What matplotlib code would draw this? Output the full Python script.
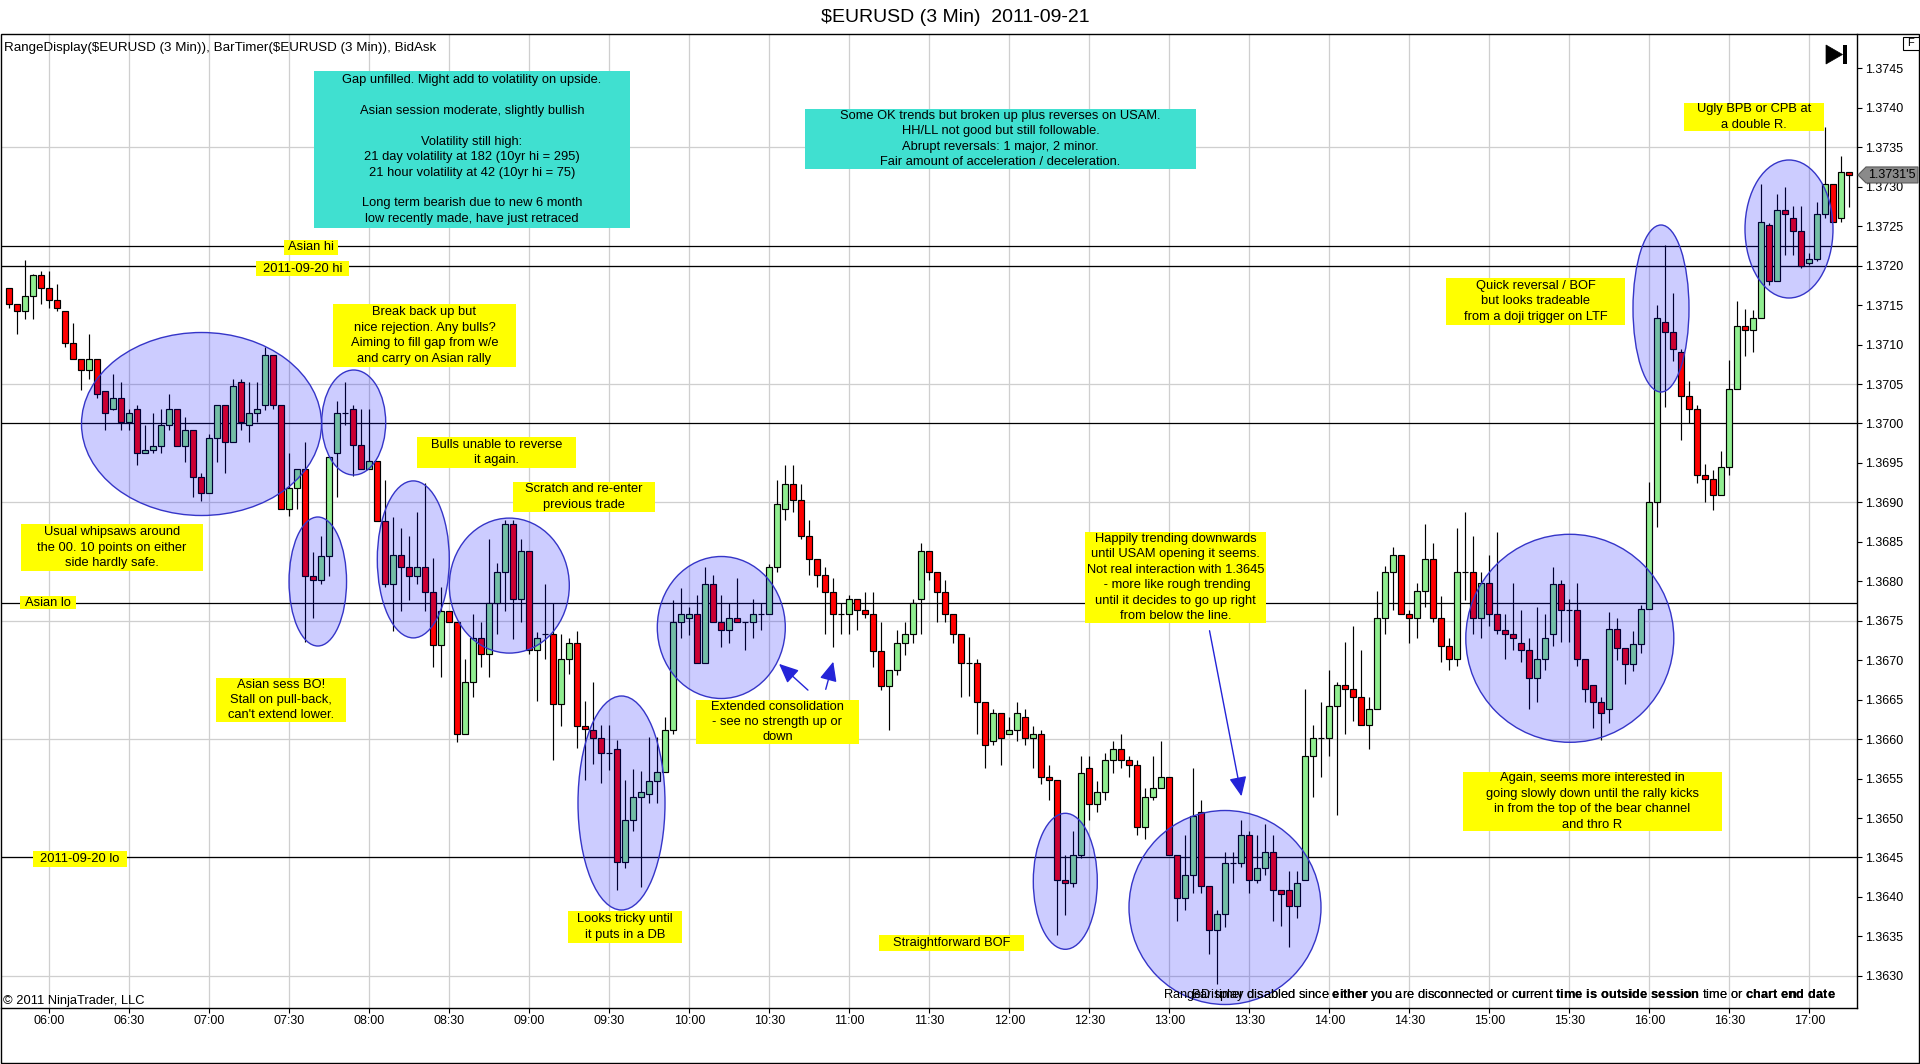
import numpy as np
import matplotlib
matplotlib.use("Agg")
import matplotlib.pyplot as plt
from matplotlib.patches import Rectangle, Ellipse, Polygon, FancyArrowPatch

plt.rcParams['font.family'] = ['Liberation Sans', 'DejaVu Sans']
plt.rcParams['mathtext.fontset'] = 'custom'
plt.rcParams['mathtext.rm'] = 'Liberation Sans'
plt.rcParams['mathtext.bf'] = 'Liberation Sans:bold'

# ---------------------------------------------------------------- data
TITLE = "$EURUSD (3 Min)  2011-09-21"
HEADER = "RangeDisplay($EURUSD (3 Min)), BarTimer($EURUSD (3 Min)), BidAsk"
SESSION_START = "05:45"
BAR_MINUTES = 3

opens = [
    1.37172, 1.37152, 1.37142, 1.37162, 1.37188, 1.37172, 1.37157, 1.37142, 1.37102, 1.37082,
    1.37068, 1.37082, 1.37041, 1.37018, 1.37032, 1.37002, 1.37018, 1.36962, 1.36967, 1.36972,
    1.36998, 1.37018, 1.36972, 1.36992, 1.36932, 1.36912, 1.36982, 1.37023, 1.36977, 1.37052,
    1.36998, 1.37013, 1.37023, 1.37087, 1.37023, 1.36892, 1.36918, 1.36942, 1.36807, 1.36802,
    1.36832, 1.36963, 1.37013, 1.37018, 1.36973, 1.36942, 1.36952, 1.36877, 1.36797, 1.36833,
    1.36818, 1.36807, 1.36818, 1.36787, 1.36719, 1.36762, 1.36748, 1.36607, 1.36673, 1.36728,
    1.36708, 1.36772, 1.36812, 1.36872, 1.36777, 1.36838, 1.36713, 1.36733, 1.36733, 1.36644,
    1.36702, 1.36722, 1.36617, 1.36612, 1.36602, 1.36583, 1.36588, 1.36444, 1.36498, 1.36527,
    1.36531, 1.36547, 1.36558, 1.36612, 1.36748, 1.36753, 1.36759, 1.36697, 1.36797, 1.36748,
    1.36738, 1.36753, 1.36748, 1.36748, 1.36759, 1.36759, 1.36818, 1.36892, 1.36923, 1.36903,
    1.36857, 1.36828, 1.36808, 1.36787, 1.36759, 1.36759, 1.36777, 1.36764, 1.36759, 1.36712,
    1.36667, 1.36687, 1.36722, 1.36733, 1.36777, 1.36838, 1.36812, 1.36787, 1.36759, 1.36733,
    1.36697, 1.36697, 1.36647, 1.36598, 1.36633, 1.36607, 1.36612, 1.36628, 1.36602, 1.36607,
    1.36552, 1.36548, 1.36422, 1.36418, 1.36453, 1.36563, 1.36518, 1.36533, 1.36573, 1.36588,
    1.36573, 1.36567, 1.36488, 1.36527, 1.36538, 1.36552, 1.36453, 1.36398, 1.36428, 1.36508,
    1.36414, 1.36358, 1.36378, 1.36443, 1.36443, 1.36478, 1.36422, 1.36437, 1.36457, 1.36409,
    1.36409, 1.36388, 1.36422, 1.36578, 1.36602, 1.36602, 1.36642, 1.36668, 1.36663, 1.36653,
    1.36618, 1.36638, 1.36753, 1.36812, 1.36833, 1.36758, 1.36753, 1.36788, 1.36828, 1.36753,
    1.36718, 1.36702, 1.36812, 1.36812, 1.36753, 1.36798, 1.36758, 1.36738, 1.36733, 1.36722,
    1.36713, 1.36678, 1.36702, 1.36733, 1.36797, 1.36764, 1.36764, 1.36702, 1.36668, 1.36647,
    1.36638, 1.36740, 1.36715, 1.36695, 1.36720, 1.36765, 1.36900, 1.37129, 1.37116, 1.37090,
    1.37035, 1.37019, 1.36935, 1.36930, 1.36910, 1.36945, 1.37044, 1.37124, 1.37119, 1.37134,
    1.37251, 1.37180, 1.37271, 1.37261, 1.37244, 1.37204, 1.37209, 1.37265, 1.37304, 1.37260,
    1.37319,
]
highs = [
    1.37172, 1.37152, 1.37207, 1.37190, 1.37193, 1.37193, 1.37177, 1.37142, 1.37127, 1.37082,
    1.37113, 1.37082, 1.37041, 1.37063, 1.37052, 1.37018, 1.37023, 1.36998, 1.37013, 1.37018,
    1.37037, 1.37018, 1.37008, 1.36992, 1.36937, 1.36987, 1.37023, 1.37023, 1.37057, 1.37057,
    1.37052, 1.37052, 1.37097, 1.37087, 1.37023, 1.36962, 1.36942, 1.36977, 1.36837, 1.36857,
    1.36957, 1.37029, 1.37053, 1.37024, 1.37018, 1.37018, 1.36952, 1.36928, 1.36882, 1.36867,
    1.36857, 1.36888, 1.36924, 1.36829, 1.36793, 1.36762, 1.36748, 1.36702, 1.36758, 1.36748,
    1.36854, 1.36823, 1.36878, 1.36878, 1.36854, 1.36838, 1.36736, 1.36797, 1.36772, 1.36733,
    1.36728, 1.36737, 1.36648, 1.36673, 1.36618, 1.36618, 1.36599, 1.36548, 1.36562, 1.36559,
    1.36603, 1.36603, 1.36628, 1.36776, 1.36792, 1.36768, 1.36783, 1.36818, 1.36808, 1.36783,
    1.36772, 1.36804, 1.36748, 1.36777, 1.36772, 1.36822, 1.36928, 1.36947, 1.36947, 1.36923,
    1.36878, 1.36828, 1.36818, 1.36804, 1.36772, 1.36783, 1.36777, 1.36787, 1.36787, 1.36748,
    1.36687, 1.36738, 1.36748, 1.36777, 1.36848, 1.36838, 1.36812, 1.36802, 1.36759, 1.36733,
    1.36730, 1.36702, 1.36647, 1.36638, 1.36633, 1.36628, 1.36647, 1.36638, 1.36617, 1.36612,
    1.36567, 1.36548, 1.36453, 1.36483, 1.36578, 1.36578, 1.36547, 1.36583, 1.36597, 1.36607,
    1.36578, 1.36573, 1.36538, 1.36578, 1.36598, 1.36552, 1.36453, 1.36478, 1.36563, 1.36523,
    1.36414, 1.36383, 1.36457, 1.36457, 1.36498, 1.36483, 1.36478, 1.36493, 1.36478, 1.36409,
    1.36433, 1.36433, 1.36663, 1.36618, 1.36647, 1.36688, 1.36672, 1.36723, 1.36743, 1.36713,
    1.36653, 1.36788, 1.36819, 1.36844, 1.36833, 1.36763, 1.36798, 1.36873, 1.36849, 1.36781,
    1.36728, 1.36867, 1.36888, 1.36857, 1.36812, 1.36833, 1.36863, 1.36758, 1.36798, 1.36764,
    1.36728, 1.36768, 1.36758, 1.36818, 1.36802, 1.36778, 1.36798, 1.36702, 1.36668, 1.36653,
    1.36761, 1.36754, 1.36715, 1.36737, 1.36770, 1.36926, 1.37150, 1.37226, 1.37166, 1.37094,
    1.37054, 1.37024, 1.36949, 1.36941, 1.36965, 1.37080, 1.37155, 1.37145, 1.37144, 1.37304,
    1.37254, 1.37291, 1.37300, 1.37276, 1.37276, 1.37216, 1.37281, 1.37376, 1.37304, 1.37339,
    1.37319,
]
lows = [
    1.37146, 1.37113, 1.37132, 1.37132, 1.37152, 1.37147, 1.37142, 1.37097, 1.37082, 1.37042,
    1.37057, 1.37032, 1.36992, 1.37017, 1.36992, 1.36992, 1.36947, 1.36962, 1.36962, 1.36962,
    1.36992, 1.36972, 1.36951, 1.36907, 1.36902, 1.36912, 1.36951, 1.36937, 1.36977, 1.36992,
    1.36977, 1.37002, 1.37017, 1.37018, 1.36892, 1.36883, 1.36892, 1.36723, 1.36753, 1.36797,
    1.36807, 1.36907, 1.36998, 1.36933, 1.36942, 1.36942, 1.36877, 1.36793, 1.36737, 1.36762,
    1.36776, 1.36797, 1.36762, 1.36692, 1.36679, 1.36748, 1.36596, 1.36607, 1.36653, 1.36692,
    1.36679, 1.36733, 1.36762, 1.36727, 1.36748, 1.36708, 1.36648, 1.36702, 1.36574, 1.36617,
    1.36682, 1.36589, 1.36548, 1.36568, 1.36544, 1.36561, 1.36409, 1.36437, 1.36483, 1.36413,
    1.36519, 1.36519, 1.36558, 1.36607, 1.36728, 1.36732, 1.36697, 1.36697, 1.36748, 1.36717,
    1.36722, 1.36748, 1.36713, 1.36728, 1.36738, 1.36759, 1.36812, 1.36878, 1.36888, 1.36853,
    1.36808, 1.36793, 1.36733, 1.36717, 1.36733, 1.36733, 1.36738, 1.36753, 1.36692, 1.36662,
    1.36612, 1.36681, 1.36707, 1.36722, 1.36733, 1.36802, 1.36748, 1.36748, 1.36722, 1.36653,
    1.36654, 1.36607, 1.36563, 1.36593, 1.36567, 1.36607, 1.36598, 1.36593, 1.36563, 1.36543,
    1.36523, 1.36352, 1.36377, 1.36413, 1.36449, 1.36497, 1.36508, 1.36523, 1.36557, 1.36563,
    1.36552, 1.36478, 1.36473, 1.36523, 1.36538, 1.36453, 1.36369, 1.36383, 1.36405, 1.36405,
    1.36328, 1.36290, 1.36362, 1.36417, 1.36438, 1.36405, 1.36418, 1.36428, 1.36369, 1.36363,
    1.36337, 1.36373, 1.36422, 1.36527, 1.36552, 1.36578, 1.36504, 1.36607, 1.36623, 1.36618,
    1.36588, 1.36638, 1.36733, 1.36764, 1.36758, 1.36722, 1.36728, 1.36768, 1.36748, 1.36698,
    1.36688, 1.36693, 1.36776, 1.36733, 1.36728, 1.36743, 1.36733, 1.36702, 1.36713, 1.36698,
    1.36638, 1.36647, 1.36688, 1.36718, 1.36723, 1.36723, 1.36693, 1.36647, 1.36614, 1.36599,
    1.36620, 1.36700, 1.36670, 1.36686, 1.36709, 1.36765, 1.36869, 1.37021, 1.37079, 1.36979,
    1.37001, 1.36925, 1.36900, 1.36890, 1.36910, 1.36935, 1.37044, 1.37085, 1.37090, 1.37134,
    1.37175, 1.37180, 1.37213, 1.37213, 1.37197, 1.37201, 1.37206, 1.37260, 1.37255, 1.37255,
    1.37275,
]
closes = [
    1.37152, 1.37142, 1.37162, 1.37188, 1.37172, 1.37157, 1.37147, 1.37102, 1.37082, 1.37068,
    1.37082, 1.37037, 1.37013, 1.37032, 1.37002, 1.37013, 1.36962, 1.36967, 1.36972, 1.36998,
    1.37018, 1.36972, 1.36992, 1.36932, 1.36912, 1.36982, 1.37023, 1.36977, 1.37047, 1.37002,
    1.37013, 1.37018, 1.37087, 1.37023, 1.36892, 1.36918, 1.36942, 1.36807, 1.36802, 1.36832,
    1.36957, 1.37013, 1.37013, 1.36973, 1.36942, 1.36952, 1.36877, 1.36797, 1.36833, 1.36818,
    1.36807, 1.36818, 1.36787, 1.36719, 1.36762, 1.36748, 1.36607, 1.36673, 1.36728, 1.36708,
    1.36772, 1.36812, 1.36872, 1.36777, 1.36838, 1.36713, 1.36728, 1.36733, 1.36644, 1.36702,
    1.36722, 1.36617, 1.36613, 1.36602, 1.36583, 1.36583, 1.36444, 1.36498, 1.36527, 1.36533,
    1.36547, 1.36558, 1.36612, 1.36748, 1.36759, 1.36759, 1.36697, 1.36797, 1.36748, 1.36738,
    1.36753, 1.36748, 1.36748, 1.36759, 1.36759, 1.36818, 1.36898, 1.36923, 1.36903, 1.36857,
    1.36828, 1.36808, 1.36787, 1.36759, 1.36759, 1.36777, 1.36764, 1.36759, 1.36712, 1.36667,
    1.36687, 1.36722, 1.36733, 1.36772, 1.36838, 1.36812, 1.36787, 1.36759, 1.36733, 1.36697,
    1.36697, 1.36647, 1.36593, 1.36633, 1.36602, 1.36612, 1.36633, 1.36602, 1.36607, 1.36552,
    1.36548, 1.36422, 1.36418, 1.36453, 1.36557, 1.36518, 1.36533, 1.36573, 1.36588, 1.36573,
    1.36567, 1.36488, 1.36527, 1.36538, 1.36552, 1.36453, 1.36398, 1.36428, 1.36503, 1.36414,
    1.36358, 1.36378, 1.36443, 1.36443, 1.36478, 1.36422, 1.36437, 1.36457, 1.36409, 1.36404,
    1.36388, 1.36418, 1.36578, 1.36602, 1.36602, 1.36642, 1.36668, 1.36663, 1.36653, 1.36618,
    1.36638, 1.36753, 1.36812, 1.36833, 1.36758, 1.36753, 1.36788, 1.36828, 1.36753, 1.36718,
    1.36702, 1.36812, 1.36812, 1.36753, 1.36798, 1.36758, 1.36738, 1.36733, 1.36728, 1.36713,
    1.36678, 1.36702, 1.36728, 1.36797, 1.36764, 1.36764, 1.36702, 1.36663, 1.36647, 1.36633,
    1.36740, 1.36715, 1.36695, 1.36720, 1.36765, 1.36900, 1.37134, 1.37116, 1.37094, 1.37035,
    1.37019, 1.36935, 1.36930, 1.36910, 1.36945, 1.37044, 1.37124, 1.37119, 1.37134, 1.37255,
    1.37180, 1.37271, 1.37265, 1.37244, 1.37200, 1.37209, 1.37265, 1.37304, 1.37255, 1.37319,
    1.37315,
]

time_labels = ["06:00", "06:30", "07:00", "07:30", "08:00", "08:30", "09:00", "09:30",
               "10:00", "10:30", "11:00", "11:30", "12:00", "12:30", "13:00", "13:30",
               "14:00", "14:30", "15:00", "15:30", "16:00", "16:30", "17:00"]

price_ticks = [1.3630, 1.3635, 1.3640, 1.3645, 1.3650, 1.3655, 1.3660, 1.3665, 1.3670,
               1.3675, 1.3680, 1.3685, 1.3690, 1.3695, 1.3700, 1.3705, 1.3710, 1.3715,
               1.3720, 1.3725, 1.3730, 1.3735, 1.3740, 1.3745]
price_grid = [1.3630, 1.3645, 1.3660, 1.3675, 1.3690, 1.3705, 1.3720, 1.3735]

level_names = ["Asian hi", "2011-09-20 hi", "Round number", "Asian lo", "2011-09-20 lo"]
level_prices = [1.37225, 1.37200, 1.37000, 1.36773, 1.36450]

last_price = 1.37315
last_price_label = "1.3731'5"

# ---------------------------------------------------------------- figure
W, H = 1920, 1064
fig = plt.figure(figsize=(W / 100, H / 100), dpi=100)
fig.patch.set_facecolor("white")


def F(x, y):
    """pixel (from top-left) -> figure fraction"""
    return (x / W, 1 - y / H)


ax_l, ax_r, ax_t, ax_b = 0.7, 1856.7, 34.0, 1008.3
ax = fig.add_axes([ax_l / W, 1 - ax_b / H, (ax_r - ax_l) / W, (ax_b - ax_t) / H])
ax.set_facecolor("white")

o = np.array(opens)
h = np.array(highs)
l = np.array(lows)
c = np.array(closes)
n = len(o)
x = np.arange(n)

# time axis positions from bar times
h0, m0 = map(int, SESSION_START.split(":"))
start_min = h0 * 60 + m0
tick_pos = []
for lab in time_labels:
    hh, mm = map(int, lab.split(":"))
    tick_pos.append((hh * 60 + mm - start_min) / BAR_MINUTES)

ax.set_xlim(-1.075, 230.925)
ax.set_ylim(1.3625881, 1.3749366)

# grid
for xp in tick_pos:
    ax.axvline(xp, color="#cfcfcf", lw=0.9, zorder=0)
for gp in price_grid:
    ax.axhline(gp, color="#cfcfcf", lw=0.9, zorder=0)

# level lines
for lp in level_prices:
    ax.axhline(lp, color="black", lw=0.9, zorder=1)

# candles
colors = np.where(c > o, "#90EE90", "#FF0000")
ax.vlines(x, l, h, color="black", lw=0.85, zorder=2)
ax.bar(x, np.abs(c - o), bottom=np.minimum(o, c), width=0.72, color=colors,
       edgecolor="black", linewidth=0.85, zorder=3)

# axes styling
ax.spines["top"].set_visible(False)
ax.spines["left"].set_visible(False)
ax.spines["bottom"].set_linewidth(1.0)
ax.spines["right"].set_linewidth(1.0)
ax.yaxis.tick_right()
ax.set_yticks(price_ticks)
ax.set_yticklabels([f"{p:.4f}" for p in price_ticks])
ax.set_xticks(tick_pos)
ax.set_xticklabels(time_labels)
ax.tick_params(axis="y", direction="out", length=3.6, width=0.8, labelsize=9, pad=2.5,
               colors="black")
ax.tick_params(axis="x", direction="out", length=3.6, width=0.8, labelsize=9, pad=1.5,
               colors="black")

# ---------------------------------------------------------------- overlays
def add_patch(p, z=1):
    p.set_transform(fig.transFigure)
    p.set_zorder(z)
    fig.add_artist(p)


# outer frame
add_patch(Rectangle(F(0.7, 1062.7), (1918.5 - 0.7) / W, (1062.7 - 34) / H,
                    fill=False, ec="black", lw=1.0), z=5)

# ellipses (cx, cy, w, h) in pixels
ellipses = [
    (201.5, 424, 240, 183), (353.7, 422.5, 64, 105), (317.8, 581.5, 57.5, 129),
    (413.3, 559.4, 72, 157), (509.3, 585.6, 120, 135), (721.3, 627.5, 128, 142),
    (621.5, 803, 87, 214), (1065.3, 881.3, 64, 136), (1225, 907.5, 192, 194),
    (1569.8, 638.3, 208, 208), (1661, 308.5, 56, 167), (1789, 229, 88, 138),
]
for cx, cy, ew, eh in ellipses:
    add_patch(Ellipse(F(cx, cy), ew / W, eh / H, fc=(0, 0, 1, 0.2),
                      ec="#3535c8", lw=1.0), z=1)

TXT = 9.3
LS = 1.38


def box(x0, x1, y0, y1, text, color="#FFFF00", z=2, va_shift=0):
    add_patch(Rectangle(F(x0, y1), (x1 - x0) / W, (y1 - y0) / H, fc=color,
                        ec="none"), z=z)
    fig.text(*F((x0 + x1) / 2, (y0 + y1) / 2 + va_shift), text, ha="center",
             va="center", fontsize=TXT, linespacing=LS, color="black",
             parse_math=False, zorder=z + 0.5)


# level labels
box(284, 338, 240, 255, level_names[0])
box(256, 349, 261, 276, level_names[1])
box(20, 76, 596, 609, level_names[3])
box(33, 127, 851, 867, level_names[4])

# teal notes
box(314, 630, 71, 228,
    "Gap unfilled. Might add to volatility on upside.\n\n"
    "Asian session moderate, slightly bullish\n\n"
    "Volatility still high:\n"
    "21 day volatility at 182 (10yr hi = 295)\n"
    "21 hour volatility at 42 (10yr hi = 75)\n\n"
    "Long term bearish due to new 6 month\n"
    "low recently made, have just retraced", color="#40E0D0")
box(805, 1196, 109, 169,
    "Some OK trends but broken up plus reverses on USAM.\n"
    "HH/LL not good but still followable.\n"
    "Abrupt reversals: 1 major, 2 minor.\n"
    "Fair amount of acceleration / deceleration.", color="#40E0D0")

# yellow notes
box(21, 203, 524, 571, "Usual whipsaws around\nthe 00. 10 points on either\nside hardly safe.")
box(216, 346, 678, 722, "Asian sess BO!\nStall on pull-back,\ncan't extend lower.")
box(333, 516, 304, 367, "Break back up but\nnice rejection. Any bulls?\n"
    "Aiming to fill gap from w/e\nand carry on Asian rally")
box(417, 576, 437, 468, "Bulls unable to reverse\nit again.")
box(513, 655, 482, 512, "Scratch and re-enter\nprevious trade")
box(696, 859, 700, 744, "Extended consolidation\n- see no strength up or\ndown")
box(568, 682, 911, 943, "Looks tricky until\nit puts in a DB")
box(879, 1024, 935, 951, "Straightforward BOF")
box(1085, 1266, 532, 623, "Happily trending downwards\nuntil USAM opening it seems.\n"
    "Not real interaction with 1.3645\n - more like rough trending\n"
    "until it decides to go up right\nfrom below the line.")
box(1463, 1722, 772, 831, "Again, seems more interested in\ngoing slowly down until the rally kicks\n"
    "in from the top of the bear channel\nand thro R")
box(1446, 1625, 278, 325, "Quick reversal / BOF\nbut looks tradeable\nfrom a doji trigger on LTF")
box(1684, 1824, 103, 131, "Ugly BPB or CPB at\na double R.")

# arrows
for (xa, ya), (xb, yb) in [((810, 692), (777, 662)), ((825, 692), (834, 659)),
                           ((1209, 628), (1242, 799))]:
    arr = FancyArrowPatch(F(xa, ya), F(xb, yb), arrowstyle="-|>,head_length=0.85,head_width=0.38",
                          mutation_scale=14, color="#2424d8", lw=1.0,
                          transform=fig.transFigure, zorder=4)
    fig.add_artist(arr)

# title and header
fig.text(*F(955, 17), TITLE, ha="center", va="center", fontsize=14, parse_math=False)
fig.text(*F(3.5, 47.5), HEADER, ha="left", va="center", fontsize=9.6, parse_math=False)

# bottom texts
fig.text(*F(3, 1001), "\u00a9 2011 NinjaTrader, LLC", ha="left", va="center",
         fontsize=TXT, parse_math=False, zorder=6)
bold_msg = (r" disabled since $\mathbf{either}$ you are disconnected or current "
            r"$\mathbf{time\ is\ outside\ session}$ time or $\mathbf{chart\ end\ date}$")
fig.text(*F(1836, 995), "RangeDisplay" + bold_msg, ha="right", va="center",
         fontsize=TXT, zorder=6)
fig.text(*F(1836, 995), "Bar timer" + bold_msg, ha="right", va="center",
         fontsize=TXT, zorder=6)

# last price marker
yl = ax.transData.transform((0, last_price))[1]
yl_px = H - yl
add_patch(Polygon([F(1858, yl_px), F(1866, yl_px - 8), F(1918, yl_px - 8),
                   F(1918, yl_px + 8), F(1866, yl_px + 8)], closed=True,
                  fc="#8a8a8a", ec="#5a5a5a", lw=0.8), z=6)
fig.text(*F(1892, yl_px), last_price_label, ha="center", va="center", fontsize=9,
         parse_math=False, zorder=7)

# F box and end-of-chart icon
add_patch(Rectangle(F(1903.3, 50), 15.7 / W, 13.3 / H, fc="white", ec="black", lw=0.8), z=6)
fig.text(*F(1911, 43.5), "F", ha="center", va="center", fontsize=8, parse_math=False, zorder=7)
add_patch(Polygon([F(1826, 45), F(1826, 64), F(1842.5, 54.5)], closed=True,
                  fc="black", ec="black", lw=0.5), z=6)
add_patch(Rectangle(F(1843.3, 64), 3.6 / W, 19 / H, fc="black", ec="none"), z=6)

fig.savefig("out.png", dpi=100, facecolor="white")
